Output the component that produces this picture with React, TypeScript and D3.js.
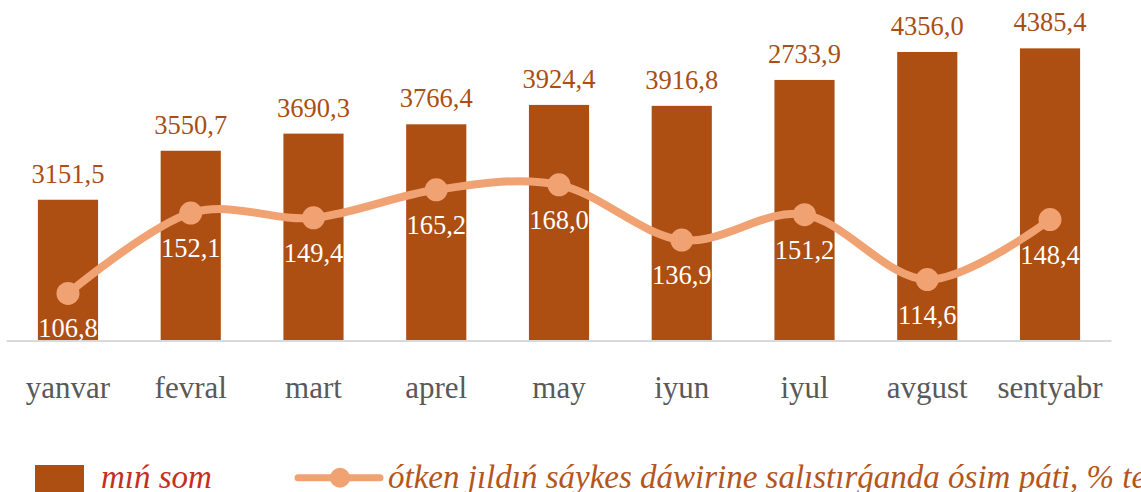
import React from "react";
import * as d3 from "d3";

const categories = ["yanvar", "fevral", "mart", "aprel", "may", "iyun", "iyul", "avgust", "sentyabr"];
const barValues = [3151.5, 3550.7, 3690.3, 3766.4, 3924.4, 3916.8, 4128.0, 4356.0, 4385.4];
const barLabels = ["3151,5", "3550,7", "3690,3", "3766,4", "3924,4", "3916,8", "2733,9", "4356,0", "4385,4"];
const lineValues = [106.8, 152.1, 149.4, 165.2, 168.0, 136.9, 151.2, 114.6, 148.4];
const barSeriesName = "mıń som";
const lineSeriesName = "ótken jıldıń sáykes dáwirine salıstırǵanda ósim páti, % te";

const W = 1141;
const H = 492;
const BAR = "#ad4e12";
const LINE = "#f1a272";
const SERIF = "Liberation Serif, Times New Roman, serif";

export default function App() {
  const x = d3.scaleBand<string>().domain(categories).range([6.6, 1111.4]).paddingInner(0.51).paddingOuter(0.255);
  const y = d3.scaleLinear().domain([2000, 4500]).range([341, 34.3]);
  const y2 = d3.scaleLinear().domain([80, 252.8]).range([341, 34.3]);
  const cx = (c: string) => (x(c) as number) + x.bandwidth() / 2;
  const fmt = (v: number) => d3.format(".1f")(v).replace(".", ",");
  const line = d3
    .line<number>()
    .x((_, i) => cx(categories[i]))
    .y((d) => y2(d))
    .curve(d3.curveCardinal.tension(0));

  return (
    <svg width={W} height={H} style={{ position: "absolute", left: 0, top: 0, background: "#fff" }}>
      {barValues.map((v, i) => (
        <rect key={"b" + i} x={x(categories[i])} y={y(v)} width={x.bandwidth()} height={y(2000) - y(v)} fill={BAR} />
      ))}
      <line x1={6.6} x2={1111.4} y1={341} y2={341} stroke="#d9d9d9" strokeWidth={2} />
      {barValues.map((v, i) => (
        <text key={"bl" + i} x={cx(categories[i])} y={y(v) - 17} textAnchor="middle" fontFamily={SERIF} fontSize={26.5} fill="#a94e14">
          {barLabels[i]}
        </text>
      ))}
      <path d={line(lineValues) || ""} fill="none" stroke={LINE} strokeWidth={8} strokeLinecap="round" />
      {lineValues.map((v, i) => (
        <circle key={"m" + i} cx={cx(categories[i])} cy={y2(v)} r={11.5} fill={LINE} />
      ))}
      {lineValues.map((v, i) => (
        <text key={"ll" + i} x={cx(categories[i])} y={y2(v) + 44} textAnchor="middle" fontFamily={SERIF} fontSize={26.5} fill="#ffffff">
          {fmt(v)}
        </text>
      ))}
      {categories.map((c) => (
        <text key={"c" + c} x={cx(c)} y={398} textAnchor="middle" fontFamily={SERIF} fontSize={31} fill="#595959">
          {c}
        </text>
      ))}
      <rect x={35} y={465} width={49} height={30} fill={BAR} />
      <text x={101} y={488} fontFamily={SERIF} fontStyle="italic" fontSize={33} fill="#c4301f">
        {barSeriesName}
      </text>
      <line x1={298} x2={380} y1={477.7} y2={477.7} stroke={LINE} strokeWidth={7} strokeLinecap="round" />
      <circle cx={340} cy={477.7} r={10} fill={LINE} />
      <text x={388} y={488} fontFamily={SERIF} fontStyle="italic" fontSize={33} fill="#b3561c">
        {lineSeriesName}
      </text>
    </svg>
  );
}
